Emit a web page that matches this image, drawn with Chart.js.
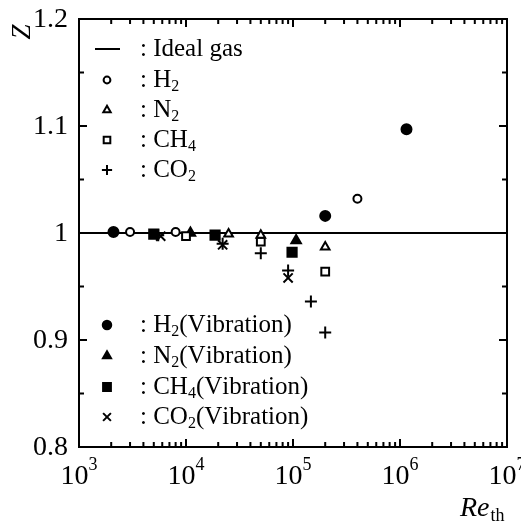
<!DOCTYPE html>
<html>
<head>
<meta charset="utf-8">
<script src="https://cdn.jsdelivr.net/npm/chart.js@4.4.1/dist/chart.umd.min.js"></script>
<style>
  body { margin: 0; background: #fff; }
</style>
</head>
<body>
<canvas id="zChart" width="521" height="522"></canvas>
<script>
// tick labels
const xTickExp = [3, 4, 5, 6, 7];
const yTicks = [0.8, 0.9, 1, 1.1, 1.2];

// ideal gas line
const idealRe = [1e3, 1e7];
const idealZ = [1, 1];

// plain cases
const h2Re = [3.0e3, 8.0e3, 4.0e5];
const h2Z = [1.001, 1.001, 1.032];
const n2Re = [2.5e4, 5.0e4, 2.0e5];
const n2Z = [0.999, 0.998, 0.987];
const ch4Re = [1.0e4, 5.0e4, 2.0e5];
const ch4Z = [0.997, 0.992, 0.964];
const co2Re = [5.5e3, 2.2e4, 5.0e4, 9.0e4, 1.47e5, 2.0e5];
const co2Z = [0.998, 0.990, 0.981, 0.965, 0.936, 0.907];

// with vibration
const h2vRe = [2.1e3, 2.0e5, 1.15e6];
const h2vZ = [1.001, 1.016, 1.097];
const n2vRe = [1.1e4, 1.07e5];
const n2vZ = [1.000, 0.993];
const ch4vRe = [5.0e3, 1.87e4, 9.8e4];
const ch4vZ = [0.999, 0.998, 0.982];
const co2vRe = [5.8e3, 2.2e4, 9.0e4];
const co2vZ = [0.997, 0.989, 0.958];

const legendTop = ['Ideal gas', 'H2', 'N2', 'CH4', 'CO2'];
const legendBottom = ['H2(Vibration)', 'N2(Vibration)', 'CH4(Vibration)', 'CO2(Vibration)'];

const serif = '"Liberation Serif", "DejaVu Serif", serif';

function pts(xs, ys) {
  return xs.map((x, i) => ({ x: x, y: ys[i] }));
}

function marker(label, xs, ys, style, radius, filled) {
  return {
    label: label,
    data: pts(xs, ys),
    showLine: false,
    pointStyle: style,
    pointRadius: radius,
    pointHoverRadius: radius,
    pointBorderWidth: 2,
    pointBorderColor: '#000',
    pointBackgroundColor: filled ? '#000' : '#fff',
    order: 0
  };
}

const datasets = [
  {
    label: 'Ideal gas',
    data: pts(idealRe, idealZ),
    showLine: true,
    borderColor: '#000',
    borderWidth: 2,
    pointRadius: 0,
    order: 10
  },
  marker('H2', h2Re, h2Z, 'circle', 4, false),
  marker('N2', n2Re, n2Z, 'triangle', 5, false),
  marker('CH4', ch4Re, ch4Z, 'rect', 5.5, false),
  marker('CO2', co2Re, co2Z, 'cross', 6, false),
  marker('H2(Vibration)', h2vRe, h2vZ, 'circle', 5, true),
  marker('N2(Vibration)', n2vRe, n2vZ, 'triangle', 5.5, true),
  marker('CH4(Vibration)', ch4vRe, ch4vZ, 'rect', 6.5, true),
  marker('CO2(Vibration)', co2vRe, co2vZ, 'crossRot', 6.5, false)
];

// text with digits as subscripts
function drawSubText(ctx, text, x, y, size) {
  let cx = x;
  for (const ch of text) {
    if (/[0-9]/.test(ch)) {
      ctx.font = Math.round(size * 0.65) + 'px ' + serif;
      ctx.fillText(ch, cx, y + size * 0.28);
    } else {
      ctx.font = size + 'px ' + serif;
      ctx.fillText(ch, cx, y);
    }
    cx += ctx.measureText(ch).width;
  }
}

const framePlugin = {
  id: 'frame',
  afterDraw(chart) {
    const ctx = chart.ctx;
    const a = chart.chartArea;
    const xs = chart.scales.x;
    const ys = chart.scales.y;
    ctx.save();
    ctx.strokeStyle = '#000';
    ctx.fillStyle = '#000';
    ctx.lineWidth = 2;
    ctx.strokeRect(a.left, a.top, a.right - a.left, a.bottom - a.top);

    // inward ticks, x axis
    ctx.beginPath();
    for (let e = xTickExp[0]; e < xTickExp[xTickExp.length - 1]; e++) {
      for (let m = 1; m <= 10; m++) {
        const px = xs.getPixelForValue(m * Math.pow(10, e));
        const len = (m === 1 || m === 10) ? 8 : 5;
        ctx.moveTo(px, a.bottom); ctx.lineTo(px, a.bottom - len);
        ctx.moveTo(px, a.top); ctx.lineTo(px, a.top + len);
      }
    }
    // y axis ticks every 0.05
    for (let i = 0; i <= 8; i++) {
      const v = yTicks[0] + i * 0.05;
      const py = ys.getPixelForValue(v);
      const len = i % 2 === 0 ? 8 : 5;
      ctx.moveTo(a.left, py); ctx.lineTo(a.left + len, py);
      ctx.moveTo(a.right, py); ctx.lineTo(a.right - len, py);
    }
    ctx.stroke();

    // y tick labels
    ctx.font = '28px ' + serif;
    ctx.textAlign = 'right';
    ctx.textBaseline = 'middle';
    yTicks.forEach(v => {
      ctx.fillText(String(v), a.left - 11, ys.getPixelForValue(v) + 1);
    });

    // x tick labels 10^n
    ctx.textBaseline = 'alphabetic';
    ctx.textAlign = 'left';
    xTickExp.forEach(e => {
      const px = xs.getPixelForValue(Math.pow(10, e));
      ctx.font = '28px ' + serif;
      const w1 = ctx.measureText('10').width;
      ctx.font = '18px ' + serif;
      const w2 = ctx.measureText(String(e)).width;
      const x0 = px - (w1 + w2) / 2;
      ctx.font = '28px ' + serif;
      ctx.fillText('10', x0, a.bottom + 37);
      ctx.font = '18px ' + serif;
      ctx.fillText(String(e), x0 + w1, a.bottom + 23);
    });

    // axis titles
    ctx.font = 'italic 28px ' + serif;
    ctx.fillText('Re', 460, 516);
    const wRe = ctx.measureText('Re').width;
    ctx.font = '18px ' + serif;
    ctx.fillText('th', 460 + wRe + 1, 521);

    ctx.save();
    ctx.translate(23, 32);
    ctx.rotate(-Math.PI / 2);
    ctx.font = 'italic 27px ' + serif;
    ctx.textAlign = 'center';
    ctx.textBaseline = 'middle';
    ctx.fillText('Z', 0, 0);
    ctx.restore();

    // legend
    ctx.textAlign = 'left';
    ctx.textBaseline = 'middle';
    const mx = 107, tx = 140;
    const topY = [49, 80, 110, 140, 170];
    const botY = [325, 356, 387, 417];
    ctx.beginPath();
    ctx.moveTo(95, topY[0]); ctx.lineTo(120, topY[0]);
    ctx.stroke();
    drawSubText(ctx, ': ' + legendTop[0], tx, topY[0], 25);
    const styles = datasets.slice(1);
    legendTop.slice(1).forEach((name, i) => {
      const d = styles[i];
      ctx.fillStyle = d.pointBackgroundColor;
      ctx.strokeStyle = '#000';
      ctx.lineWidth = 2;
      Chart.helpers.drawPoint(ctx, { pointStyle: d.pointStyle, radius: d.pointRadius * 0.85, rotation: 0, borderWidth: 2 }, mx, topY[i + 1]);
      ctx.fillStyle = '#000';
      drawSubText(ctx, ': ' + name, tx, topY[i + 1], 25);
    });
    legendBottom.forEach((name, i) => {
      const d = styles[i + 4];
      ctx.fillStyle = d.pointBackgroundColor;
      ctx.strokeStyle = '#000';
      ctx.lineWidth = 2;
      Chart.helpers.drawPoint(ctx, { pointStyle: d.pointStyle, radius: d.pointRadius * 0.85, rotation: 0, borderWidth: 2 }, mx, botY[i]);
      ctx.fillStyle = '#000';
      drawSubText(ctx, ': ' + name, tx, botY[i], 25);
    });
    ctx.restore();
  }
};

new Chart(document.getElementById('zChart').getContext('2d'), {
  type: 'scatter',
  data: { datasets: datasets },
  options: {
    responsive: false,
    animation: false,
    layout: { padding: { left: 79, right: 14, top: 19, bottom: 75 } },
    plugins: {
      legend: { display: false },
      tooltip: { enabled: false }
    },
    scales: {
      x: {
        type: 'logarithmic',
        min: Math.pow(10, xTickExp[0]),
        max: Math.pow(10, xTickExp[xTickExp.length - 1]),
        grid: { display: false },
        border: { display: false },
        ticks: { display: false },
        afterFit: s => { s.height = 0; }
      },
      y: {
        min: yTicks[0],
        max: yTicks[yTicks.length - 1],
        grid: { display: false },
        border: { display: false },
        ticks: { display: false },
        afterFit: s => { s.width = 0; }
      }
    }
  },
  plugins: [framePlugin]
});
</script>
</body>
</html>
